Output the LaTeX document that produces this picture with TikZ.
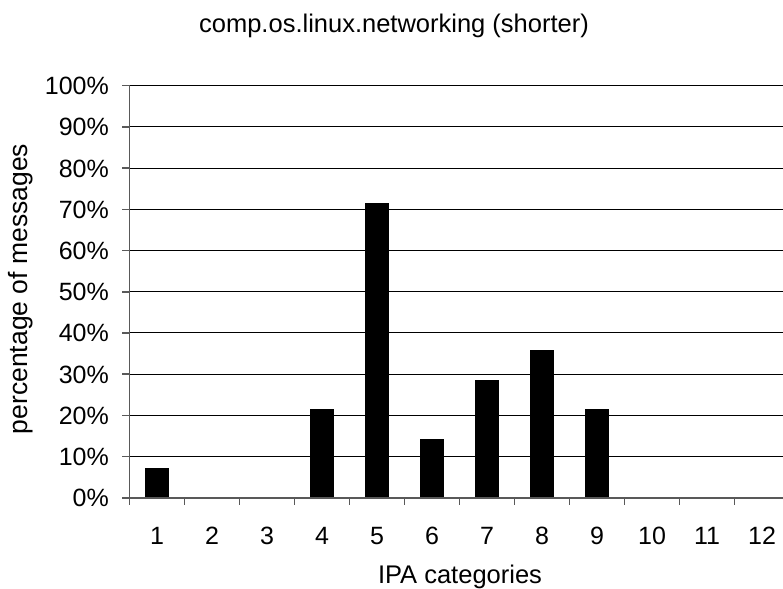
\documentclass[tikz,border=0pt]{standalone}
\usepackage{fontspec}
\setmainfont{Liberation Sans}
\usepackage{xcolor}
\usepackage{tikz}

\definecolor{axisgray}{gray}{0.35}

\begin{document}
\begin{tikzpicture}[x=1pt, y=-1pt,
    every node/.style={font=\fontsize{25}{30}\selectfont, inner sep=0pt},
    grid/.style={line width=1pt, black},
    axis/.style={line width=1.6pt, axisgray},
    bar/.style={fill=black, draw=black, line width=0.6pt}]
        \useasboundingbox (0,0) rectangle (783,588);

        % Title
        \node[anchor=base, font=\fontsize{25.5}{30}\selectfont] (title) at (394,33) {comp.os.linux.networking (shorter)};

        % Gridlines and percent labels
        \foreach \k in {1,...,10} {
            \draw[grid] (129.5,497.7-41.2*\k) -- (783,497.7-41.2*\k);
        }
        \foreach \k in {0,...,10} {
            \draw[axis] (122,497.7-41.2*\k) -- (129.5,497.7-41.2*\k);
            \pgfmathtruncatemacro{\pct}{10*\k}
            \node[anchor=base east] (ylab\k) at (109,506.7-41.2*\k) {\pct\%};
        }

        % Bars (counts out of 14 messages)
        \foreach \c/\v in {1/1, 4/3, 5/10, 6/2, 7/4, 8/5, 9/3} {
            \draw[bar] (129.5+55*\c-39,497.7) rectangle (129.5+55*\c-16,497.7-412*\v/14);
        }

        % Axes
        \draw[axis] (129.5,85.7) -- (129.5,505);
        \draw[axis] (129.5,497.7) -- (783,497.7);
        \foreach \c in {1,...,11} {
            \draw[axis] (129.5+55*\c,497.7) -- (129.5+55*\c,505);
        }

        % Category labels
        \foreach \c in {1,...,12} {
            \node[anchor=base] (xlab\c) at (129.5+55*\c-27.5,544) {\c};
        }

        % Axis titles
        \node[anchor=base, font=\fontsize{25.5}{30}\selectfont] (xtitle) at (460,583) {IPA categories};
        \node[rotate=90, anchor=base, font=\fontsize{26.5}{30}\selectfont] (ytitle) at (27,289) {percentage of messages};
    \end{tikzpicture}
\end{document}
